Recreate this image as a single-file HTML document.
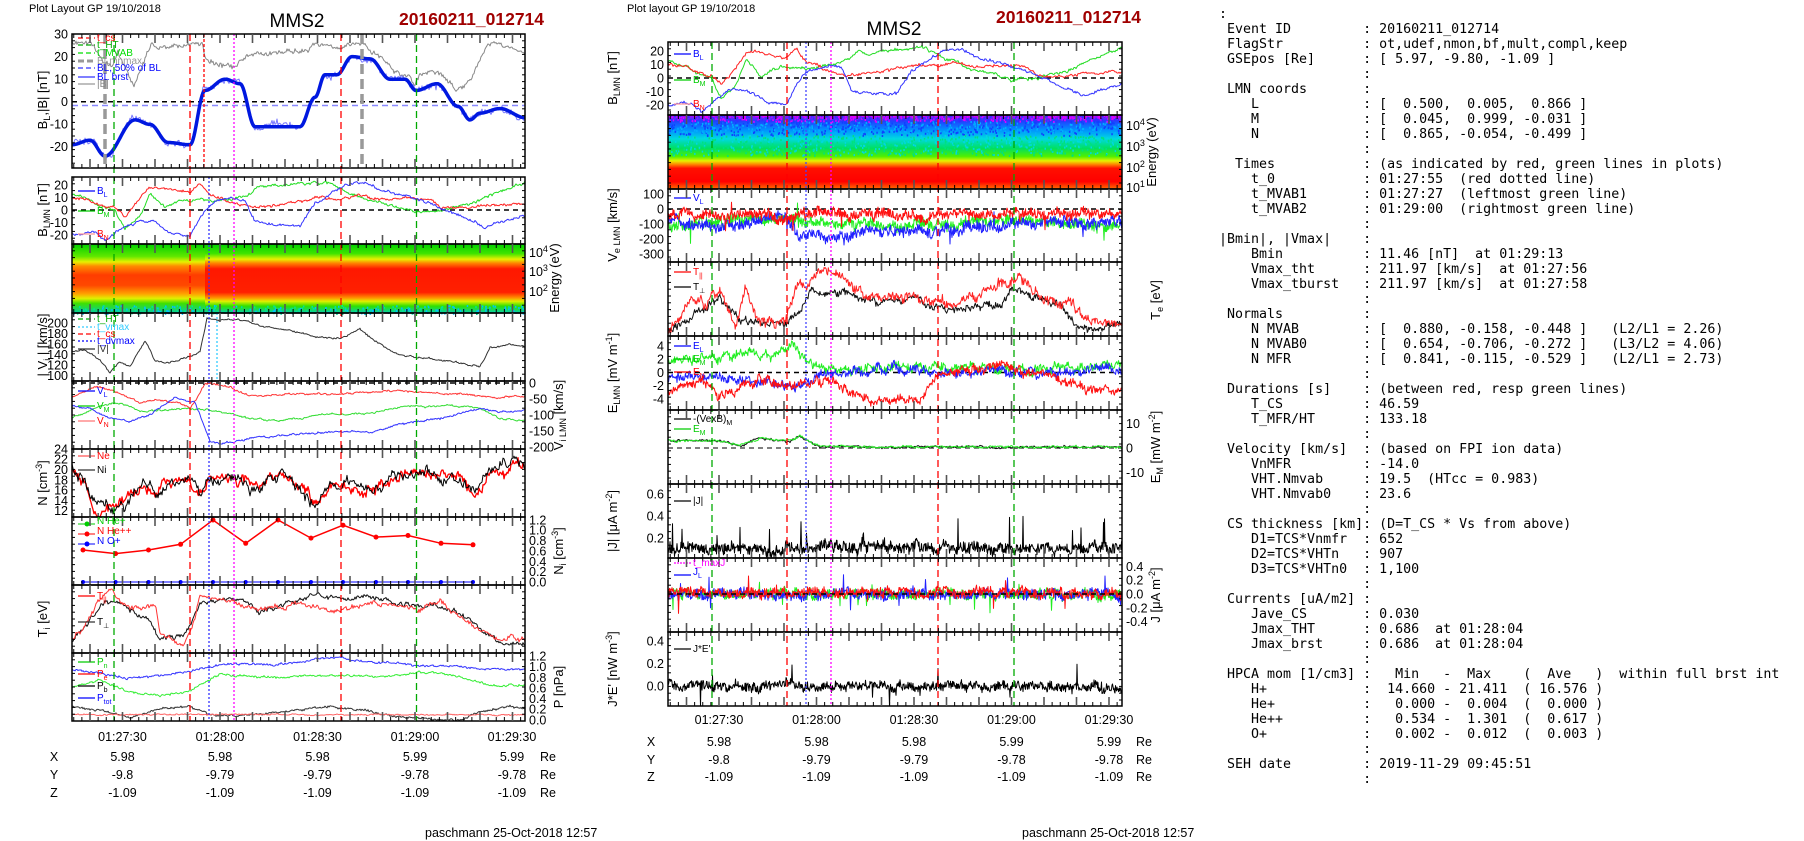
<!DOCTYPE html>
<html><head><meta charset="utf-8"><style>
body{margin:0;background:#fff;width:1804px;height:841px;overflow:hidden;position:relative}
svg text{font-family:"Liberation Sans",sans-serif;fill:#000}
pre{position:absolute;left:1219px;top:7px;margin:0;font:13.3px/15px "DejaVu Sans Mono",monospace;color:#000}
</style></head><body>
<svg id="s" width="1804" height="841" style="position:absolute;left:0;top:0">
<defs>
<linearGradient id="gL1" x1="0" y1="0" x2="0" y2="1">
<stop offset="0" stop-color="#00d000"/><stop offset="0.18" stop-color="#60e800"/><stop offset="0.26" stop-color="#e8f000"/><stop offset="0.32" stop-color="#ff8c00"/><stop offset="0.45" stop-color="#ff3c00"/><stop offset="0.6" stop-color="#ff4800"/><stop offset="0.72" stop-color="#ffa000"/><stop offset="0.79" stop-color="#e0f000"/><stop offset="0.86" stop-color="#40e000"/><stop offset="1" stop-color="#00d0a0"/></linearGradient>
<linearGradient id="gL2" x1="0" y1="0" x2="0" y2="1">
<stop offset="0" stop-color="#00d000"/><stop offset="0.14" stop-color="#40e400"/><stop offset="0.22" stop-color="#e8f000"/><stop offset="0.28" stop-color="#ff8000"/><stop offset="0.36" stop-color="#ff1800"/><stop offset="0.7" stop-color="#ff2000"/><stop offset="0.78" stop-color="#ff9000"/><stop offset="0.83" stop-color="#e0f000"/><stop offset="0.9" stop-color="#30e000"/><stop offset="1" stop-color="#00d0b0"/></linearGradient>
<linearGradient id="gM" x1="0" y1="0" x2="0" y2="1">
<stop offset="0" stop-color="#c000ff"/><stop offset="0.08" stop-color="#2040ff"/><stop offset="0.2" stop-color="#0090ff"/><stop offset="0.32" stop-color="#00d8e0"/><stop offset="0.45" stop-color="#00e060"/><stop offset="0.56" stop-color="#50f000"/><stop offset="0.62" stop-color="#e8f000"/><stop offset="0.67" stop-color="#ff8000"/><stop offset="0.72" stop-color="#ff1000"/><stop offset="0.9" stop-color="#ff0000"/><stop offset="1" stop-color="#ff7000"/></linearGradient>
</defs>
<rect x="72" y="244" width="453" height="69" fill="url(#gL2)"/>
<rect x="72" y="244" width="133" height="69" fill="url(#gL1)"/>
<rect x="668" y="115" width="454" height="74" fill="url(#gM)"/>
<g id="data"></g>
<g id="frames"></g>

<!-- headers -->
<text x="29" y="12" font-size="11">Plot Layout GP 19/10/2018</text>
<text x="297" y="27" font-size="19" text-anchor="middle">MMS2</text>
<text x="399" y="25" font-size="17.5" font-weight="bold" style="fill:#a00000">20160211_012714</text>
<text x="627" y="12" font-size="11">Plot layout GP 19/10/2018</text>
<text x="894" y="35" font-size="19" text-anchor="middle">MMS2</text>
<text x="996" y="23" font-size="17.5" font-weight="bold" style="fill:#a00000">20160211_012714</text>

<g font-size="12.5" text-anchor="end">
<!-- left P1 -->
<text x="68" y="38.5">30</text><text x="68" y="61">20</text><text x="68" y="83.5">10</text><text x="68" y="106">0</text><text x="68" y="128.5">-10</text><text x="68" y="151">-20</text>
<text x="68" y="189.5">20</text><text x="68" y="202">10</text><text x="68" y="214.5">0</text><text x="68" y="227">-10</text><text x="68" y="239.5">-20</text>
<text x="68" y="327.5">200</text><text x="68" y="338">180</text><text x="68" y="348.5">160</text><text x="68" y="359">140</text><text x="68" y="369.5">120</text><text x="68" y="380">100</text>
<text x="68" y="453.5">24</text><text x="68" y="463.5">22</text><text x="68" y="474">20</text><text x="68" y="484.5">18</text><text x="68" y="494.5">16</text><text x="68" y="505">14</text><text x="68" y="515">12</text>
<!-- middle -->
<text x="664" y="55.5">20</text><text x="664" y="69">10</text><text x="664" y="82.5">0</text><text x="664" y="96">-10</text><text x="664" y="109.5">-20</text>
<text x="664" y="198.5">100</text><text x="664" y="213.5">0</text><text x="664" y="228.5">-100</text><text x="664" y="243.5">-200</text><text x="664" y="258.5">-300</text>
<text x="664" y="350.5">4</text><text x="664" y="363.5">2</text><text x="664" y="377">0</text><text x="664" y="390">-2</text><text x="664" y="403.5">-4</text>
<text x="664" y="498.5">0.6</text><text x="664" y="520.5">0.4</text><text x="664" y="542.5">0.2</text>
<text x="664" y="645.5">0.4</text><text x="664" y="668">0.2</text><text x="664" y="690.5">0.0</text>
</g>
<g font-size="12.5">
<text x="529" y="257">10<tspan font-size="9" dy="-5">4</tspan></text><text x="529" y="276">10<tspan font-size="9" dy="-5">3</tspan></text><text x="529" y="296">10<tspan font-size="9" dy="-5">2</tspan></text>
<text x="529" y="387.5">0</text><text x="529" y="403.5">-50</text><text x="529" y="419.5">-100</text><text x="529" y="435.5">-150</text><text x="529" y="451.5">-200</text>
<text x="529" y="524.5">1.2</text><text x="529" y="534.5">1.0</text><text x="529" y="545">0.8</text><text x="529" y="555.5">0.6</text><text x="529" y="566">0.4</text><text x="529" y="576">0.2</text><text x="529" y="586.5">0.0</text>
<text x="529" y="660.5">1.2</text><text x="529" y="671">1.0</text><text x="529" y="682">0.8</text><text x="529" y="692.5">0.6</text><text x="529" y="703">0.4</text><text x="529" y="713.5">0.2</text><text x="529" y="724.5">0.0</text>
<text x="1126" y="130">10<tspan font-size="9" dy="-5">4</tspan></text><text x="1126" y="151">10<tspan font-size="9" dy="-5">3</tspan></text><text x="1126" y="172">10<tspan font-size="9" dy="-5">2</tspan></text><text x="1126" y="192">10<tspan font-size="9" dy="-5">1</tspan></text>
<text x="1126" y="428">10</text><text x="1126" y="452.5">0</text><text x="1126" y="477">-10</text>
<text x="1126" y="571">0.4</text><text x="1126" y="584.5">0.2</text><text x="1126" y="598.5">0.0</text><text x="1126" y="612.5">-0.2</text><text x="1126" y="626">-0.4</text>
</g>
<!-- rotated axis labels -->
<g font-size="13" text-anchor="middle">
<text transform="translate(47,100) rotate(-90)">B<tspan font-size="9" dy="3">L</tspan><tspan dy="-3">,|B| [nT]</tspan></text>
<text transform="translate(47,210) rotate(-90)">B<tspan font-size="9" dy="3">LMN</tspan><tspan dy="-3"> [nT]</tspan></text>
<text transform="translate(559,278) rotate(-90)">Energy (eV)</text>
<text transform="translate(47,345) rotate(-90)">| V<tspan font-size="9" dy="3">i</tspan><tspan dy="-3"> | [km/s]</tspan></text>
<text transform="translate(563,415) rotate(-90)">V<tspan font-size="9" dy="3">i LMN</tspan><tspan dy="-3"> [km/s]</tspan></text>
<text transform="translate(47,483) rotate(-90)">N [cm<tspan font-size="9" dy="-5">-3</tspan><tspan dy="5">]</tspan></text>
<text transform="translate(563,551) rotate(-90)">N<tspan font-size="9" dy="3">i</tspan><tspan dy="-3"> [cm</tspan><tspan font-size="9" dy="-5">-3</tspan><tspan dy="5">]</tspan></text>
<text transform="translate(47,619) rotate(-90)">T<tspan font-size="9" dy="3">i</tspan><tspan dy="-3"> [eV]</tspan></text>
<text transform="translate(563,687) rotate(-90)">P [nPa]</text>
<text transform="translate(617,78) rotate(-90)">B<tspan font-size="9" dy="3">LMN</tspan><tspan dy="-3"> [nT]</tspan></text>
<text transform="translate(1156,152) rotate(-90)">Energy (eV)</text>
<text transform="translate(617,225) rotate(-90)">V<tspan font-size="9" dy="3">e LMN</tspan><tspan dy="-3"> [km/s]</tspan></text>
<text transform="translate(1160,300) rotate(-90)">T<tspan font-size="9" dy="3">e</tspan><tspan dy="-3"> [eV]</tspan></text>
<text transform="translate(617,373) rotate(-90)">E<tspan font-size="9" dy="3">LMN</tspan><tspan dy="-3">  [mV m</tspan><tspan font-size="9" dy="-5">-1</tspan><tspan dy="5">]</tspan></text>
<text transform="translate(1160,447) rotate(-90)">E<tspan font-size="9" dy="3">M</tspan><tspan dy="-3"> [mW m</tspan><tspan font-size="9" dy="-5">-2</tspan><tspan dy="5">]</tspan></text>
<text transform="translate(617,521) rotate(-90)">|J| [μA m<tspan font-size="9" dy="-5">-2</tspan><tspan dy="5">]</tspan></text>
<text transform="translate(1160,595) rotate(-90)">J [μA m<tspan font-size="9" dy="-5">-2</tspan><tspan dy="5">]</tspan></text>
<text transform="translate(617,669) rotate(-90)">J*E' [nW m<tspan font-size="9" dy="-5">-3</tspan><tspan dy="5">]</tspan></text>
</g>
<!-- time ticks and positions -->
<g font-size="12.5" text-anchor="middle">
<text x="122.5" y="741">01:27:30</text><text x="220" y="741">01:28:00</text><text x="317.5" y="741">01:28:30</text><text x="415" y="741">01:29:00</text><text x="512" y="741">01:29:30</text>
<text x="54" y="761">X</text><text x="122.5" y="761">5.98</text><text x="220" y="761">5.98</text><text x="317.5" y="761">5.98</text><text x="415" y="761">5.99</text><text x="512" y="761">5.99</text><text x="548" y="761">Re</text>
<text x="54" y="779">Y</text><text x="122.5" y="779">-9.8</text><text x="220" y="779">-9.79</text><text x="317.5" y="779">-9.79</text><text x="415" y="779">-9.78</text><text x="512" y="779">-9.78</text><text x="548" y="779">Re</text>
<text x="54" y="797">Z</text><text x="122.5" y="797">-1.09</text><text x="220" y="797">-1.09</text><text x="317.5" y="797">-1.09</text><text x="415" y="797">-1.09</text><text x="512" y="797">-1.09</text><text x="548" y="797">Re</text>
<text x="719" y="724">01:27:30</text><text x="816.5" y="724">01:28:00</text><text x="914" y="724">01:28:30</text><text x="1011.5" y="724">01:29:00</text><text x="1109" y="724">01:29:30</text>
<text x="651" y="746">X</text><text x="719" y="746">5.98</text><text x="816.5" y="746">5.98</text><text x="914" y="746">5.98</text><text x="1011.5" y="746">5.99</text><text x="1109" y="746">5.99</text><text x="1144" y="746">Re</text>
<text x="651" y="764">Y</text><text x="719" y="764">-9.8</text><text x="816.5" y="764">-9.79</text><text x="914" y="764">-9.79</text><text x="1011.5" y="764">-9.78</text><text x="1109" y="764">-9.78</text><text x="1144" y="764">Re</text>
<text x="651" y="781">Z</text><text x="719" y="781">-1.09</text><text x="816.5" y="781">-1.09</text><text x="914" y="781">-1.09</text><text x="1011.5" y="781">-1.09</text><text x="1109" y="781">-1.09</text><text x="1144" y="781">Re</text>
</g>
<text x="425" y="837" font-size="12.5">paschmann 25-Oct-2018 12:57</text>
<text x="1022" y="837" font-size="12.5">paschmann 25-Oct-2018 12:57</text>
<!-- legends -->
<g font-size="10">
<text x="97" y="41" style="fill:#f00">t_cs</text><text x="97" y="48" style="fill:#0a0">t_HT</text><text x="97" y="56" style="fill:#0d0">t_MVAB</text><text x="97" y="64" style="fill:#999">BLmnmax</text><text x="97" y="71" style="fill:#00f">BL, 50% of BL</text><text x="97" y="80" style="fill:#00f">BL  brst</text><text x="97" y="87" style="fill:#888">|B|</text>
<text x="97" y="194" style="fill:#00f">B<tspan font-size="7" dy="3">L</tspan></text><text x="97" y="214" style="fill:#0c0">B<tspan font-size="7" dy="3">M</tspan></text><text x="97" y="237" style="fill:#f00">B<tspan font-size="7" dy="3">N</tspan></text>
<text x="97" y="322" style="fill:#0a0">t_HT</text><text x="97" y="330" style="fill:#3cf">t_vmax</text><text x="97" y="337" style="fill:#f00">t_cs</text><text x="97" y="344" style="fill:#00f">t_dvmax</text><text x="97" y="352" style="fill:#333">|V|</text>
<text x="97" y="394" style="fill:#00f">V<tspan font-size="7" dy="3">L</tspan></text><text x="97" y="409" style="fill:#0c0">V<tspan font-size="7" dy="3">M</tspan></text><text x="97" y="424" style="fill:#f00">V<tspan font-size="7" dy="3">N</tspan></text>
<text x="97" y="459" style="fill:#f00">Ne</text><text x="97" y="473" style="fill:#000">Ni</text>
<text x="97" y="524" style="fill:#0c0">N  He+</text><text x="97" y="534" style="fill:#f00">N  He++</text><text x="97" y="544" style="fill:#00f">N  O+</text>
<text x="97" y="599" style="fill:#f00">T<tspan font-size="7" dy="3">||</tspan></text><text x="97" y="625" style="fill:#000">T<tspan font-size="7" dy="3">⊥</tspan></text>
<text x="97" y="665" style="fill:#0c0">P<tspan font-size="7" dy="3">n</tspan></text><text x="97" y="677" style="fill:#f00">P<tspan font-size="7" dy="3">e</tspan></text><text x="97" y="689" style="fill:#000">P<tspan font-size="7" dy="3">b</tspan></text><text x="97" y="701" style="fill:#00f">P<tspan font-size="7" dy="3">tot</tspan></text>
<text x="693" y="57" style="fill:#00f">B<tspan font-size="7" dy="3">L</tspan></text><text x="693" y="83" style="fill:#0c0">B<tspan font-size="7" dy="3">M</tspan></text><text x="693" y="107" style="fill:#f00">B<tspan font-size="7" dy="3">N</tspan></text>
<text x="693" y="201" style="fill:#00f">V<tspan font-size="7" dy="3">L</tspan></text>
<text x="693" y="275" style="fill:#f00">T<tspan font-size="7" dy="3">||</tspan></text><text x="693" y="290" style="fill:#000">T<tspan font-size="7" dy="3">⊥</tspan></text>
<text x="693" y="349" style="fill:#00f">E<tspan font-size="7" dy="3">L</tspan></text><text x="693" y="362" style="fill:#0c0">E<tspan font-size="7" dy="3">M</tspan></text><text x="693" y="375" style="fill:#f00">E<tspan font-size="7" dy="3">N</tspan></text>
<text x="693" y="422" style="fill:#000">-(VexB)<tspan font-size="7" dy="3">M</tspan></text><text x="693" y="432" style="fill:#0c0">E<tspan font-size="7" dy="3">M</tspan></text>
<text x="693" y="504" style="fill:#000">|J|</text>
<text x="693" y="566" style="fill:#f0f">t_maxJ</text><text x="693" y="575" style="fill:#00f">J<tspan font-size="7" dy="3">L</tspan></text>
<text x="693" y="652" style="fill:#000">J*E'</text>
</g>
</svg>
<pre>:
 Event ID         : 20160211_012714
 FlagStr          : ot,udef,nmon,bf,mult,compl,keep
 GSEpos [Re]      : [ 5.97, -9.80, -1.09 ]
                  :
 LMN coords       :
    L             : [  0.500,  0.005,  0.866 ]
    M             : [  0.045,  0.999, -0.031 ]
    N             : [  0.865, -0.054, -0.499 ]
                  :
  Times           : (as indicated by red, green lines in plots)
    t_0           : 01:27:55  (red dotted line)
    t_MVAB1       : 01:27:27  (leftmost green line)
    t_MVAB2       : 01:29:00  (rightmost green line)
                  :
|Bmin|, |Vmax|    :
    Bmin          : 11.46 [nT]  at 01:29:13
    Vmax_tht      : 211.97 [km/s]  at 01:27:56
    Vmax_tburst   : 211.97 [km/s]  at 01:27:58
                  :
 Normals          :
    N MVAB        : [  0.880, -0.158, -0.448 ]   (L2/L1 = 2.26)
    N MVAB0       : [  0.654, -0.706, -0.272 ]   (L3/L2 = 4.06)
    N MFR         : [  0.841, -0.115, -0.529 ]   (L2/L1 = 2.73)
                  :
 Durations [s]    : (between red, resp green lines)
    T_CS          : 46.59
    T_MFR/HT      : 133.18
                  :
 Velocity [km/s]  : (based on FPI ion data)
    VnMFR         : -14.0
    VHT.Nmvab     : 19.5  (HTcc = 0.983)
    VHT.Nmvab0    : 23.6
                  :
 CS thickness [km]: (D=T_CS * Vs from above)
    D1=TCS*Vnmfr  : 652
    D2=TCS*VHTn   : 907
    D3=TCS*VHTn0  : 1,100
                  :
 Currents [uA/m2] :
    Jave_CS       : 0.030
    Jmax_THT      : 0.686  at 01:28:04
    Jmax_brst     : 0.686  at 01:28:04
                  :
 HPCA mom [1/cm3] :   Min   -  Max    (  Ave   )  within full brst int
    H+            :  14.660 - 21.411  ( 16.576 )
    He+           :   0.000 -  0.004  (  0.000 )
    He++          :   0.534 -  1.301  (  0.617 )
    O+            :   0.002 -  0.012  (  0.003 )
                  :
 SEH date         : 2019-11-29 09:45:51
                  :</pre>
<script>
var seed=7;function R(){seed=(seed*16807)%2147483647;return seed/2147483647;}
var D='',F='';
function ip(kp,x,cos){if(x<=kp[0][0])return kp[0][1];for(var i=1;i<kp.length;i++){if(x<=kp[i][0]){var a=kp[i-1],b=kp[i];var u=(x-a[0])/(b[0]-a[0]);if(cos)u=(1-Math.cos(Math.PI*u))/2;return a[1]+(b[1]-a[1])*u;}}return kp[kp.length-1][1];}
function L(kp,f,o){var x0=o.x0||72,x1=o.x1||525,off=o.off||0,dx=o.dx||1,w=0,p=[];
 for(var x=x0;x<=x1+0.01;x+=dx){w=w*(o.k||0.85)+(R()-0.5)*(o.w||0);var v=ip(kp,x-off,o.cos)+w+(R()-0.5)*(o.n||0);
  if(o.sp&&R()<o.sp[0])v+=o.sp[1]*R()*(o.sp[2]&&R()<0.5?-1:1);
  var y=f(v);y=Math.max(o.y0,Math.min(o.y1,y));p.push(x.toFixed(1)+','+y.toFixed(1));}
 D+='<polyline points="'+p.join(' ')+'" fill="none" stroke="'+o.c+'" stroke-width="'+(o.sw||1)+'" stroke-linejoin="round"/>';}
function V(x,y0,y1,c,da,sw){D+='<line x1="'+x+'" y1="'+y0+'" x2="'+x+'" y2="'+y1+'" stroke="'+c+'" stroke-width="'+(sw||1.3)+'" stroke-dasharray="'+da+'"/>';}
function H(x0,x1,y,c,da,sw){D+='<line x1="'+x0+'" y1="'+y+'" x2="'+x1+'" y2="'+y+'" stroke="'+c+'" stroke-width="'+(sw||1.3)+'" stroke-dasharray="'+da+'"/>';}
function frame(x0,x1,edges,t0x){for(var i=0;i<edges.length-1;i++){var a=edges[i],b=edges[i+1];
 F+='<rect x="'+x0+'" y="'+a+'" width="'+(x1-x0)+'" height="'+(b-a)+'" fill="none" stroke="#000" stroke-width="1.5"/>';
 for(var s=-15;s<=124;s+=2.5){var x=t0x+s*3.25;if(x<=x0||x>=x1)continue;var big=(Math.round(s)%10===0&&Math.abs(s-Math.round(s))<0.01);var len=big?9:4;
  F+='<line x1="'+x+'" y1="'+a+'" x2="'+x+'" y2="'+(a+len)+'" stroke="'+(big?'#555':'#000')+'" stroke-width="'+(big?1.6:1)+'"/><line x1="'+x+'" y1="'+b+'" x2="'+x+'" y2="'+(b-len)+'" stroke="'+(big?'#555':'#000')+'" stroke-width="'+(big?1.6:1)+'"/>';}
 for(var y=a+6.8;y<b-2;y+=6.8){F+='<line x1="'+x0+'" y1="'+y+'" x2="'+(x0+3)+'" y2="'+y+'" stroke="#000"/><line x1="'+x1+'" y1="'+y+'" x2="'+(x1-3)+'" y2="'+y+'" stroke="#000"/>';}}}
// speckles on middle spectrogram
for(var i=0;i<2200;i++){var x=668+R()*452,y=115+Math.pow(R(),1.6)*40;var r=R();var c=y<121?(r<0.6?'#e000ff':'#3030ff'):(y<135?(r<0.5?'#1040ff':'#00b0ff'):(r<0.5?'#00d8e0':'#00e080'));D+='<rect x="'+x.toFixed(1)+'" y="'+y.toFixed(1)+'" width="1.5" height="2" fill="'+c+'"/>';}
for(var i=0;i<300;i++){var x=72+R()*453,y=305+R()*8;D+='<rect x="'+x.toFixed(1)+'" y="'+y.toFixed(1)+'" width="1.5" height="2" fill="'+(R()<0.5?'#00c0ff':'#00e0a0')+'"/>';}
var M=596.5;
// ---------- LEFT ----------
var f1=function(v){return 34+(30-v)*2.26};
H(72,525,101.8,'#000','5,4',1.5);H(72,525,105.5,'#88f','6,4',1.5);
var BB=[[72,26],[95,24],[103,18],[112,15],[118,22],[126,14],[134,7],[140,14],[150,25],[165,24],[190,26],[202,26],[205,20],[220,16],[232,15],[250,20],[270,22],[300,22],[315,25],[330,26],[342,25],[362,26],[380,20],[395,13],[410,12],[414,7],[420,12],[440,14],[458,5],[470,10],[488,26],[510,24],[525,22]];
L(BB,f1,{c:'#888',n:1.5,w:1.2,y0:34,y1:168});
var BL=[[72,-19],[90,-17],[105,-24],[135,-8],[150,-10],[168,-18],[190,-19],[205,5],[225,10],[240,8],[255,-11],[300,-11],[315,2],[325,12],[337,12],[352,20],[370,19],[390,10],[405,10],[416,5],[437,8],[458,-2],[470,-8],[480,-5],[500,-3],[525,-7]];
L(BL,f1,{c:'#77f',n:2.2,w:1.5,y0:34,y1:168,cos:1});
L(BL,f1,{c:'#0018e0',sw:3.5,y0:34,y1:168,cos:1});
// BLMN
var f2=function(v){return 185+(20-v)*1.25};
var BLr=[[72,10],[90,8],[100,3],[115,2],[125,-5],[150,18],[165,18],[190,15],[200,22],[210,12],[230,6],[250,3],[270,3],[290,5],[320,10],[340,8],[360,12],[380,8],[410,10],[430,8],[440,2],[470,2],[500,4],[525,5]];
var BLg=[[72,12],[90,8],[100,3],[115,0],[125,-15],[140,-5],[150,14],[165,2],[180,8],[210,8],[240,10],[260,18],[290,20],[315,22],[330,22],[340,17],[370,8],[400,3],[415,-2],[440,0],[470,5],[500,15],[525,22]];
var BLb=[[72,-20],[95,-18],[105,-25],[120,-15],[140,-8],[155,-10],[170,-18],[190,-20],[200,-5],[210,5],[230,10],[245,8],[255,-10],[290,-12],[300,-12],[315,5],[330,12],[345,20],[365,22],[385,15],[410,10],[440,2],[470,-8],[485,-14],[500,-10],[525,-5]];
H(72,525,210,'#000','5,4',1.5);
L(BLg,f2,{c:'#2d2',n:1.5,w:1.2,y0:177,y1:244});L(BLr,f2,{c:'#f22',n:1.5,w:1.2,y0:177,y1:244});L(BLb,f2,{c:'#33f',n:1.5,w:1.2,y0:177,y1:244});
// |Vi|
var f4=function(v){return 323+(200-v)*0.53};
var VI=[[72,145],[85,148],[100,130],[110,105],[120,128],[130,118],[145,165],[155,130],[170,125],[190,138],[200,145],[207,208],[215,205],[240,205],[260,195],[290,188],[317,172],[340,170],[360,188],[375,165],[400,140],[440,130],[480,120],[490,155],[510,160],[525,155]];
L(VI,f4,{c:'#333',n:2,w:2,y0:313,y1:381});
// Vi LMN
var f5=function(v){return 383-v*0.32};H(72,525,383,'#000','5,4',1.5);
L([[72,-110],[90,-85],[100,-70],[120,-60],[140,-90],[170,-85],[200,-80],[220,-90],[250,-110],[280,-120],[320,-100],[370,-95],[400,-75],[450,-70],[480,-80],[500,-110],[525,-115]],f5,{c:'#3d3',n:4,w:3,y0:381,y1:449});
L([[72,-45],[90,-20],[100,-10],[115,-25],[140,-60],[160,-55],[180,-65],[190,-80],[205,-5],[230,-10],[250,-40],[300,-35],[340,-35],[400,-25],[450,-35],[500,-45],[525,-40]],f5,{c:'#f33',n:4,w:3,y0:381,y1:449});
L([[72,-70],[90,-80],[110,-110],[130,-120],[150,-100],[175,-45],[195,-60],[210,-180],[220,-190],[260,-170],[300,-160],[350,-150],[370,-155],[400,-130],[440,-110],[480,-80],[500,-90],[525,-85]],f5,{c:'#33f',n:4,w:3,y0:381,y1:449});
// N
var f6=function(v){return 449+(24-v)*5.17};
var NN=[[72,20],[85,18],[95,13],[110,13],[125,14],[140,17],[155,15],[170,18],[190,19],[200,16],[210,18],[240,18],[260,16],[280,20],[300,17],[315,14],[330,17],[370,16],[380,17],[400,18],[420,19.5],[440,19],[460,19],[475,15],[490,20],[505,20],[515,22],[525,21]];
L(NN,f6,{c:'#f00',n:1.2,w:1.3,y0:449,y1:517,sw:1.3});L(NN,f6,{c:'#000',n:1.2,w:1.3,y0:449,y1:517});
// Ni
var f7=function(v){return 520+(1.2-v)*51.7};
var NI=[[83,.62],[115.6,.55],[148.5,.62],[180.6,.73],[213,1.2],[245.7,.75],[278,1.2],[311,.85],[343,1.1],[376,.87],[408,.9],[441,.75],[473,.72]];
var pp=NI.map(function(p){return p[0]+','+f7(p[1]).toFixed(1)}).join(' ');
D+='<polyline points="'+pp+'" fill="none" stroke="#f00" stroke-width="1.5"/>';
NI.forEach(function(p){D+='<circle cx="'+p[0]+'" cy="'+f7(p[1]).toFixed(1)+'" r="2.5" fill="#f00"/><circle cx="'+p[0]+'" cy="582" r="2" fill="#00f"/>';});
D+='<line x1="83" y1="582" x2="473" y2="582" stroke="#00f" stroke-width="1"/>';
D+='<line x1="78" y1="524" x2="95" y2="524" stroke="#0c0"/><circle cx="87" cy="524" r="2.5" fill="#0c0"/><line x1="78" y1="534" x2="95" y2="534" stroke="#f00"/><circle cx="87" cy="534" r="2.5" fill="#f00"/><line x1="78" y1="544" x2="95" y2="544" stroke="#00f"/><circle cx="87" cy="544" r="2.5" fill="#00f"/>';
// Ti
var id=function(v){return v};
L([[72,640],[90,620],[105,600],[120,605],[150,620],[160,638],[185,635],[200,605],[220,600],[240,598],[260,612],[300,600],[320,596],[340,600],[380,598],[420,605],[445,608],[470,620],[500,645],[525,645]],id,{c:'#111',n:3,w:3,y0:585,y1:653});
L([[72,640],[85,625],[100,600],[110,592],[120,600],[140,610],[155,602],[160,630],[170,640],[185,645],[195,620],[200,595],[220,600],[260,610],[300,605],[340,610],[380,605],[420,610],[440,600],[460,620],[500,640],[525,640]],id,{c:'#f33',n:3,w:3,y0:585,y1:653});
// P
var f9=function(v){return 656+(1.2-v)*53.3};
L([[72,.95],[100,.9],[130,.78],[160,.85],[190,.9],[220,1.05],[280,1.05],[340,1.18],[360,1.1],[400,1.05],[460,1.0],[490,.95],[525,.95]],f9,{c:'#33f',n:.03,w:.02,y0:653,y1:721});
L([[72,.6],[100,.75],[130,.5],[160,.45],[190,.55],[220,.85],[280,.8],[340,.85],[380,.8],[420,.9],[450,.85],[490,.65],[525,.65]],f9,{c:'#3e3',n:.03,w:.02,y0:653,y1:721});
L([[72,.25],[100,.2],[130,.05],[160,.2],[190,.25],[210,.1],[260,.1],[300,.2],[330,.25],[360,.2],[400,.05],[460,0],[480,.15],[510,.25],[525,.2]],f9,{c:'#333',n:.03,w:.02,y0:653,y1:721});
L([[72,.1],[525,.1]],f9,{c:'#f66',n:.02,w:.01,y0:653,y1:721});
// left markers
V(105,34,168,'#999','10,5',3.5);V(362,34,168,'#999','10,5',3.5);
V(114,34,721,'#0a0','7,4');V(416.5,34,721,'#0a0','7,4');
V(190,34,721,'#f00','7,4');V(341,34,721,'#f00','7,4');
V(204,34,168,'#f00','3,2');V(209,177,721,'#33f','2,2');V(217,313,381,'#3cf','2,2');
V(234,34,721,'#f0f','2,2');
// legend lines left
[[41,'#f00','5,3'],[48,'#0a0','5,3'],[56,'#0d0','5,3'],[64,'#999','6,3'],[71,'#33f','5,3'],[80,'#33f',''],[87,'#999','']].forEach(function(a){H(78,95,a[0]-3,a[1],a[2],a[0]==64?3:1.3);});
[[322,'#0a0','5,3'],[330,'#3cf','2,2'],[337,'#f00','5,3'],[344,'#00f','2,2'],[352,'#333','']].forEach(function(a){H(78,95,a[0]-3,a[1],a[2],1.2);});
[[191,'#00f'],[211,'#0c0'],[234,'#f99'],[391,'#00f'],[406,'#0c0'],[421,'#f77'],[456,'#f55'],[470,'#333'],[596,'#f00'],[622,'#333'],[662,'#0c0'],[674,'#f00'],[686,'#000'],[698,'#00f']].forEach(function(a){H(78,95,a[0],a[1],'',1.2);});
// ---------- MIDDLE ----------
var g1=function(v){return 51+(20-v)*1.35};
H(668,1122,78,'#000','5,4',1.5);
L(BLg,g1,{c:'#2d2',n:1.5,w:1.2,y0:42,y1:115,x0:668,x1:1122,off:M});L(BLr,g1,{c:'#f22',n:1.5,w:1.2,y0:42,y1:115,x0:668,x1:1122,off:M});L(BLb,g1,{c:'#33f',n:1.5,w:1.2,y0:42,y1:115,x0:668,x1:1122,off:M});
// Ve
var g3=function(v){return 194+(100-v)*0.15};H(668,1122,209,'#000','5,4',1.5);
var mo={x0:668,x1:1122,y0:189,y1:262,dx:0.5};
L([[668,-100],[760,-70],[787,-60],[800,-90],[900,-110],[1000,-80],[1122,-110]],g3,Object.assign({c:'#2e2',n:60,w:25,sp:[.01,120,1]},mo));
L([[668,-60],[700,-130],[740,-100],[770,-50],[787,-60],[800,-170],[830,-200],[870,-150],[950,-140],[1000,-100],[1050,-90],[1122,-80]],g3,Object.assign({c:'#22f',n:60,w:25,sp:[.01,120,1]},mo));
L([[668,-50],[700,-30],[787,-60],[800,-20],[900,-40],[1122,-30]],g3,Object.assign({c:'#f11',n:60,w:25,sp:[.01,100,1]},mo));
// Te
L([[668,330],[700,310],[720,300],[740,320],[780,325],[800,315],[810,290],[830,290],[880,305],[910,300],[950,310],[1000,300],[1010,290],[1040,300],[1060,305],[1080,330],[1122,325]],id,{c:'#111',n:5,w:4,y0:262,y1:336,x0:668,x1:1122,dx:.7});
L([[668,330],[690,300],[705,305],[720,290],[735,330],[745,290],[760,325],[785,325],[795,290],[810,285],[830,265],[845,285],[880,300],[910,295],[950,305],[980,295],[1000,285],[1020,280],[1040,300],[1070,300],[1085,320],[1122,325]],id,{c:'#f22',n:7,w:5,y0:262,y1:336,x0:668,x1:1122,dx:.7});
// E
var g5=function(v){return 346+(4-v)*6.625};H(668,1122,372.5,'#000','5,4',1.5);
var eo={x0:668,x1:1122,y0:336,y1:410,dx:.6};
L([[668,2],[720,2],[740,3],[770,2.5],[790,4],[810,1],[850,.5],[900,1],[1000,.5],[1122,1]],g5,Object.assign({c:'#2e2',n:1,w:.6},eo));
L([[668,-1],[700,-.5],[790,-2],[830,0],[900,.5],[950,0],[1000,0],[1090,.2],[1100,1],[1122,0]],g5,Object.assign({c:'#22f',n:1,w:.6},eo));
L([[668,-3],[700,-1],[720,-3],[760,-1],[790,-2],[830,-1],[850,-3],[880,-4.5],[920,-4],[940,0],[1000,1],[1060,-1],[1090,-3],[1122,-2.5]],g5,Object.assign({c:'#f11',n:1,w:.6},eo));
// EM
var g6=function(v){return 448-v*2.45};H(668,1122,448,'#555','5,4',1.5);
var EMk=[[668,3],[720,3],[740,1],[760,4],[790,3],[800,5],[820,.5],[1122,.5]];
L(EMk,g6,{c:'#111',n:.8,w:.4,x0:668,x1:1122,y0:410,y1:484});L(EMk,g6,{c:'#2e2',n:.8,w:.4,x0:668,x1:1122,y0:410,y1:484});
// |J|
var g7=function(v){return 494+(0.6-v)*110};
L([[668,.1],[760,.1],[775,.05],[790,.12],[1122,.1]],g7,{c:'#000',n:.09,w:.03,x0:668,x1:1122,y0:484,y1:557,dx:.5,sp:[.03,.3]});
// J vec
var g8=function(v){return 594-v*68.75};
var jo={x0:668,x1:1122,y0:558,y1:632,dx:.5,n:.12,w:.05,sp:[.02,.25,1]};
L([[668,0],[1122,0]],g8,Object.assign({c:'#2e2'},jo));L([[668,0],[1122,0]],g8,Object.assign({c:'#22f'},jo));L([[668,.02],[1122,.02]],g8,Object.assign({c:'#f11'},jo));
H(668,1122,594,'#000','5,4',1.5);
// J*E
var g9=function(v){return 686-v*112.5};
L([[668,0],[1122,0]],g9,{c:'#000',n:.07,w:.03,x0:668,x1:1122,y0:632,y1:706,dx:.5,sp:[.02,.2,1]});
// middle markers
V(712,42,706,'#0a0','7,4');V(1014,42,706,'#0a0','7,4');V(787,42,706,'#f00','7,4');V(938,42,706,'#f00','7,4');
V(806,42,706,'#44f','2,2');V(831,42,706,'#f0f','2,2');
[[54,'#00f'],[80,'#0c0'],[104,'#f99'],[198,'#00f'],[272,'#f00'],[287,'#000'],[346,'#00f'],[359,'#0c0'],[372,'#f00'],[419,'#000'],[429,'#0c0'],[501,'#000'],[575,'#00f'],[649,'#000']].forEach(function(a){H(674,691,a[0],a[1],'',1.2);});
H(674,691,563,'#f0f','2,1',1.2);
frame(72,525,[34,168],122.5);frame(72,525,[177,244,313,381,449,517,585,653,721],122.5);
frame(668,1122,[42,115,189,262,336,410,484,558,632,706],719);
document.getElementById('data').innerHTML=D;document.getElementById('frames').innerHTML=F;
</script>
</body></html>
